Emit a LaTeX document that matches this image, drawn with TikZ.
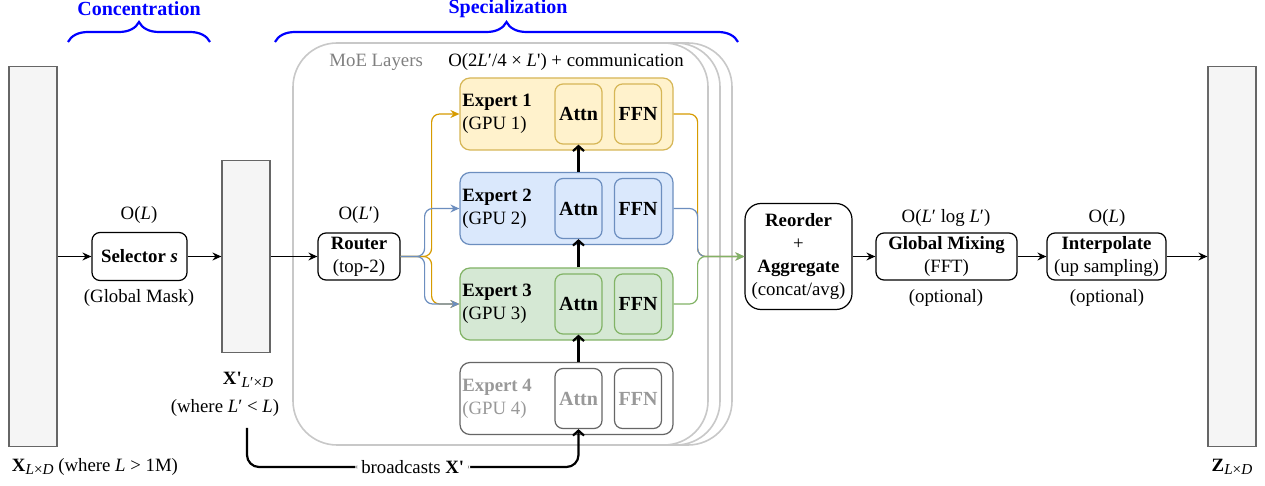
\documentclass[tikz,border=0pt]{standalone}
\usepackage{fontspec}
\setmainfont{LiberationSerif}[Extension=.ttf, UprightFont=*-Regular, BoldFont=*-Bold,
  ItalicFont=*-Italic, BoldItalicFont=*-BoldItalic]
\usetikzlibrary{arrows.meta,decorations.pathreplacing}

\definecolor{barfill}{HTML}{F5F5F5}
\definecolor{barline}{HTML}{666666}
\definecolor{moeline}{HTML}{C8C8C8}
\definecolor{moetext}{HTML}{808080}
\definecolor{ylwfill}{HTML}{FFF2CC}
\definecolor{ylwline}{HTML}{D6B656}
\definecolor{ylwarrow}{HTML}{D79B00}
\definecolor{bluefill}{HTML}{DAE8FC}
\definecolor{blueline}{HTML}{6C8EBF}
\definecolor{grnfill}{HTML}{D5E8D4}
\definecolor{grnline}{HTML}{82B366}
\definecolor{offtext}{HTML}{999999}
\definecolor{offline}{HTML}{666666}
\definecolor{bracecol}{HTML}{0000FF}

\newcommand\sbx[1]{\raisebox{-0.4ex}{\fontsize{7.6}{8}\selectfont #1}}

\tikzset{
  every node/.style={inner sep=0pt, align=center},
  bar/.style={draw=barline, fill=barfill, line width=0.6pt, minimum width=24pt},
  opbox/.style={draw, line width=0.6pt, rounded corners=4pt},
  moebox/.style={draw=moeline, fill=white, line width=0.8pt, rounded corners=22pt,
    minimum width=207.5pt, minimum height=201pt},
  expert/.style={line width=0.6pt, rounded corners=5pt, minimum width=106.5pt, minimum height=36pt},
  part/.style={line width=0.6pt, rounded corners=4pt, minimum width=23.5pt, minimum height=30pt,
    font=\bfseries},
  elabel/.style={anchor=west, align=left},
  arr/.style={-{Stealth[length=4.5pt,width=4pt,inset=1.5pt]}, line width=0.6pt},
  route/.style={arr, rounded corners=4pt},
  bigarr/.style={-{Straight Barb[length=2.5pt,width=5.5pt]}, line width=1.1pt},
  brace/.style={decorate, decoration={brace, amplitude=10pt}, draw=bracecol, line width=1.1pt},
  tag/.style={text=bracecol, font=\bfseries},
}

\begin{document}
\begin{tikzpicture}[x=0.5pt, y=-0.5pt, font=\fontsize{9.4}{11.4}\selectfont]
  \useasboundingbox (0,0) rectangle (1265,486);

  \draw[brace] (68,42) -- (210,42);
  \node[tag] (conc) at (139,9) {Concentration};
  \draw[brace] (275,42) -- (738,42);
  \node[tag] (spec) at (508,9) {Specialization};

  \node[bar, minimum height=190pt] (xbar) at (33,256.5) {};
  \node[bar, minimum height=96pt] (xpbar) at (246,256.5) {};
  \node[bar, minimum height=190pt] (zbar) at (1232,256.5) {};
  \node (xlabel) at (95,467) {\textbf{X}\sbx{\textit{L}×\textit{D}} (where \textit{L} > 1M)};
  \node (xplabel) at (248,380) {\textbf{X\textquotesingle}\sbx{\textit{L}′×\textit{D}}};
  \node (xpnote) at (225,408) {(where \textit{L}′ < \textit{L})};
  \node (zlabel) at (1232,467) {\textbf{Z}\sbx{\textit{L}×\textit{D}}};

  \node[opbox, minimum width=47.5pt, minimum height=24pt] (sel) at (139.5,256.5) {\textbf{Selector \textit{s}}};
  \node (selcost) at (139,215) {O(\textit{L})};
  \node (selnote) at (139,298) {(Global Mask)};

  \node[moebox] (moe3) at (524.5,244) {};
  \node[moebox] (moe2) at (512.5,244) {};
  \node[moebox] (moe1) at (500.5,244) {};
  \node[text=moetext, anchor=west] (moetitle) at (329,62) {MoE Layers};
  \node (moecost) at (566,62) {O(2\textit{L}′/4 × \textit{L}\textquotesingle) + communication};

  \node[opbox, minimum width=41pt, minimum height=23.5pt] (router) at (359,256.5) {\textbf{Router}\\(top-2)};
  \node (routecost) at (359,215) {O(\textit{L}′)};

  \foreach \i/\y/\ln/\fl in {1/114/ylwline/ylwfill, 2/208.5/blueline/bluefill, 3/304/grnline/grnfill} {
    \node[expert, draw=\ln, fill=\fl] (exp\i) at (566.5,\y) {};
    \node[elabel] (name\i) at (462,\y) {\textbf{Expert \i}\\(GPU \i)};
    \node[part, draw=\ln] (attn\i) at (578.5,\y) {Attn};
    \node[part, draw=\ln] (ffn\i) at (638,\y) {FFN};
  }
  \node[expert, draw=offline, fill=white] (exp4) at (566.5,398.5) {};
  \node[elabel, text=offtext] (name4) at (462,398.5) {\textbf{Expert 4}\\(GPU 4)};
  \node[part, draw=offline, text=offtext] (attn4) at (578.5,398.5) {Attn};
  \node[part, draw=offline, text=offtext] (ffn4) at (638,398.5) {FFN};

  \draw[bigarr] (attn1.south |- exp2.north) -- (attn1.south);
  \draw[bigarr] (attn2.south |- exp3.north) -- (attn2.south);
  \draw[bigarr] (attn3.south |- exp4.north) -- (attn3.south);

  \coordinate (bcstart) at (247,428);
  \coordinate (bcturn) at (578.5,467);
  \draw[bigarr, rounded corners=6pt] (bcstart) |- node[pos=0.75, fill=white, inner xsep=3pt] (bclabel)
    {broadcasts \textbf{X\textquotesingle}} (bcturn) -- (attn4.south);

  \node[opbox, rounded corners=8pt, minimum width=53.5pt, minimum height=53pt] (reorder) at (798.5,256.5)
    {\textbf{Reorder}\\+\\\textbf{Aggregate}\\(concat/avg)};
  \node[opbox, minimum width=70.5pt, minimum height=23.5pt] (mix) at (946.5,256.5) {\textbf{Global Mixing}\\(FFT)};
  \node (mixcost) at (946,218) {O(\textit{L}′ log \textit{L}′)};
  \node (mixnote) at (946,298) {(optional)};
  \node[opbox, minimum width=59.5pt, minimum height=23.5pt] (interp) at (1106.5,256.5) {\textbf{Interpolate}\\(up sampling)};
  \node (interpcost) at (1107,218) {O(\textit{L})};
  \node (interpnote) at (1107,298) {(optional)};

  \draw[route, color=ylwarrow] (router.east) -- ++(31,0) |- (exp1.west);
  \draw[route, color=ylwarrow] (router.east) -- ++(31,0) |- (exp3.west);
  \draw[route, color=blueline] (router.east) -- ++(24,0) |- (exp2.west);
  \draw[route, color=blueline] (router.east) -- ++(24,0) |- (exp3.west);
  \draw[route, color=ylwarrow] (exp1.east) -- ++(24,0) |- (reorder.west);
  \draw[route, color=blueline] (exp2.east) -- ++(24,0) |- (reorder.west);
  \draw[route, color=grnline] (exp3.east) -- ++(24,0) |- (reorder.west);

  \draw[arr] (xbar) -- (sel);
  \draw[arr] (sel) -- (xpbar);
  \draw[arr] (xpbar) -- (router);
  \draw[arr] (reorder) -- (mix);
  \draw[arr] (mix) -- (interp);
  \draw[arr] (interp) -- (zbar);
\end{tikzpicture}
\end{document}
